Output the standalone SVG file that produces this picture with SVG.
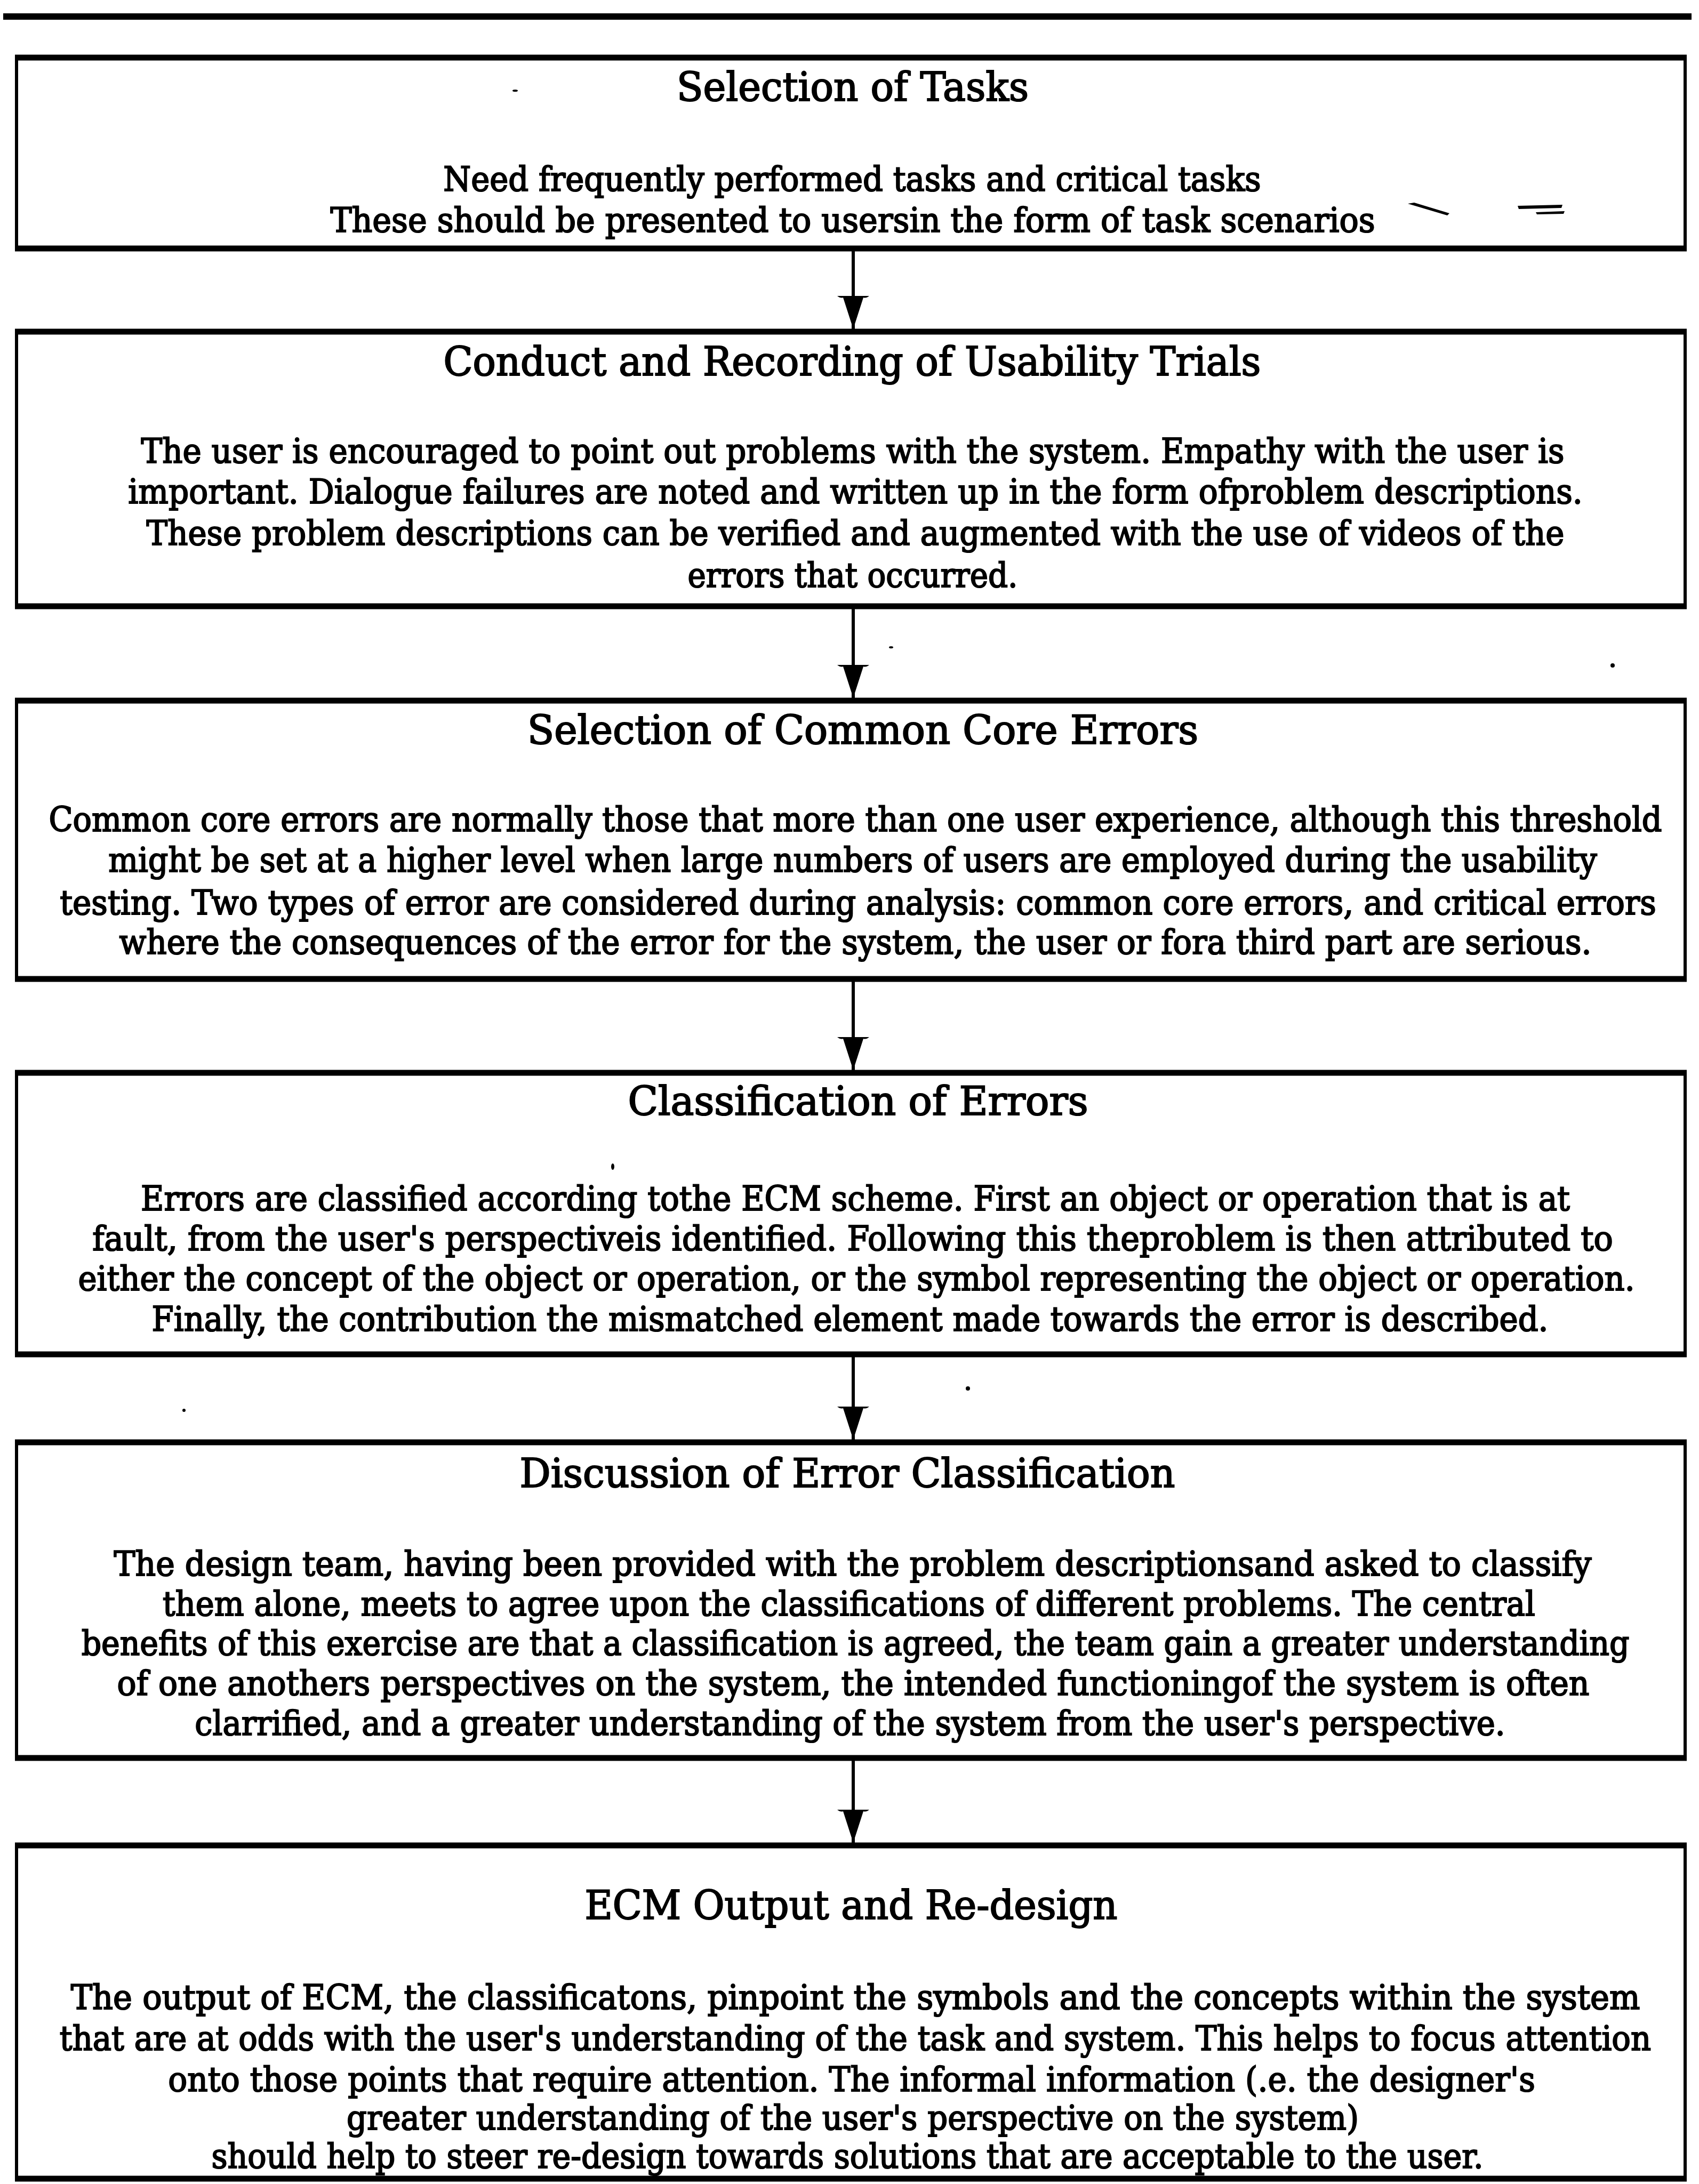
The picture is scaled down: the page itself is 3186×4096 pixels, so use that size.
<svg xmlns="http://www.w3.org/2000/svg" width="3186" height="4096" viewBox="0 0 3186 4096">
  <style>
    .frame { fill: none; stroke: #000; stroke-width: 6; }
    .edge { stroke: #000; stroke-width: 11; stroke-linecap: butt; }
    .rule { stroke: #000; stroke-width: 12; }
    .flow { stroke: #000; stroke-width: 6; fill: none; }
    text { font-family: "DejaVu Serif", "Liberation Serif", serif; fill: #000; stroke: #000; stroke-width: 2.2; text-anchor: middle; }
    .title { font-size: 74px; }
    .body { font-size: 64px; }
    .speck { fill: #000; stroke: none; }
  </style>
  <defs>
    <marker id="head" markerUnits="userSpaceOnUse" viewBox="0 -30 62 60" refX="62" refY="0" markerWidth="62" markerHeight="60" orient="auto">
      <path d="M0,-30 Q5,-24 3,-19 L62,0 L3,19 Q5,24 0,30 Z" fill="#000"/>
    </marker>
  </defs>

  <rect width="3186" height="4096" fill="#fff"/>

  <!-- page rule -->
  <line class="rule" x1="6" y1="31" x2="3172" y2="31"/>

  <!-- body lines are set in a slightly condensed face: scale(.85 1) -->
  <g id="node-selection-of-tasks">
    <rect class="frame" x="31" y="108" width="3129" height="358"/>
    <line class="edge" x1="28" y1="108" x2="3163" y2="108"/>
    <line class="edge" x1="28" y1="466" x2="3163" y2="466"/>
    <text class="title" x="1599" y="189" textLength="660" lengthAdjust="spacingAndGlyphs">Selection of Tasks</text>
    <text class="body" transform="translate(1598 358) scale(.85 1)" textLength="1804" lengthAdjust="spacingAndGlyphs">Need frequently performed tasks and critical tasks</text>
    <text class="body" transform="translate(1599 435) scale(.85 1)" textLength="2305" lengthAdjust="spacingAndGlyphs">These should be presented to usersin the form of task scenarios</text>
  </g>

  <g id="node-conduct-and-recording">
    <rect class="frame" x="31" y="622" width="3129" height="515"/>
    <line class="edge" x1="28" y1="622" x2="3163" y2="622"/>
    <line class="edge" x1="28" y1="1137" x2="3163" y2="1137"/>
    <text class="title" x="1598" y="704" textLength="1533" lengthAdjust="spacingAndGlyphs">Conduct and Recording of Usability Trials</text>
    <text class="body" transform="translate(1599 868) scale(.85 1)" textLength="3140" lengthAdjust="spacingAndGlyphs">The user is encouraged to point out problems with the system. Empathy with the user is</text>
    <text class="body" transform="translate(1604 944) scale(.85 1)" textLength="3209" lengthAdjust="spacingAndGlyphs">important. Dialogue failures are noted and written up in the form ofproblem descriptions.</text>
    <text class="body" transform="translate(1604 1022) scale(.85 1)" textLength="3128" lengthAdjust="spacingAndGlyphs">These problem descriptions can be verified and augmented with the use of videos of the</text>
    <text class="body" transform="translate(1599 1101) scale(.85 1)" textLength="728" lengthAdjust="spacingAndGlyphs">errors that occurred.</text>
  </g>

  <g id="node-common-core-errors">
    <rect class="frame" x="31" y="1314" width="3129" height="522"/>
    <line class="edge" x1="28" y1="1314" x2="3163" y2="1314"/>
    <line class="edge" x1="28" y1="1836" x2="3163" y2="1836"/>
    <text class="title" x="1618" y="1395" textLength="1258" lengthAdjust="spacingAndGlyphs">Selection of Common Core Errors</text>
    <text class="body" transform="translate(1604 1559) scale(.85 1)" textLength="3559" lengthAdjust="spacingAndGlyphs">Common core errors are normally those that more than one user experience, although this threshold</text>
    <text class="body" transform="translate(1599 1635) scale(.85 1)" textLength="3284" lengthAdjust="spacingAndGlyphs">might be set at a higher level when large numbers of users are employed during the usability</text>
    <text class="body" transform="translate(1609 1715) scale(.85 1)" textLength="3522" lengthAdjust="spacingAndGlyphs">testing. Two types of error are considered during analysis: common core errors, and critical errors</text>
    <text class="body" transform="translate(1604 1789) scale(.85 1)" textLength="3248" lengthAdjust="spacingAndGlyphs">where the consequences of the error for the system, the user or fora third part are serious.</text>
  </g>

  <g id="node-classification-of-errors">
    <rect class="frame" x="31" y="2012" width="3129" height="528"/>
    <line class="edge" x1="28" y1="2012" x2="3163" y2="2012"/>
    <line class="edge" x1="28" y1="2540" x2="3163" y2="2540"/>
    <text class="title" x="1609" y="2091" textLength="863" lengthAdjust="spacingAndGlyphs">Classification of Errors</text>
    <text class="body" transform="translate(1604 2270) scale(.85 1)" textLength="3153" lengthAdjust="spacingAndGlyphs">Errors are classified according tothe ECM scheme. First an object or operation that is at</text>
    <text class="body" transform="translate(1599 2345) scale(.85 1)" textLength="3355" lengthAdjust="spacingAndGlyphs">fault, from the user's perspectiveis identified. Following this theproblem is then attributed to</text>
    <text class="body" transform="translate(1606 2420) scale(.85 1)" textLength="3434" lengthAdjust="spacingAndGlyphs">either the concept of the object or operation, or the symbol representing the object or operation.</text>
    <text class="body" transform="translate(1594 2496) scale(.85 1)" textLength="3081" lengthAdjust="spacingAndGlyphs">Finally, the contribution the mismatched element made towards the error is described.</text>
  </g>

  <g id="node-discussion">
    <rect class="frame" x="31" y="2705" width="3129" height="592"/>
    <line class="edge" x1="28" y1="2705" x2="3163" y2="2705"/>
    <line class="edge" x1="28" y1="3297" x2="3163" y2="3297"/>
    <text class="title" x="1589" y="2789" textLength="1229" lengthAdjust="spacingAndGlyphs">Discussion of Error Classification</text>
    <text class="body" transform="translate(1599 2955) scale(.85 1)" textLength="3260" lengthAdjust="spacingAndGlyphs">The design team, having been provided with the problem descriptionsand asked to classify</text>
    <text class="body" transform="translate(1592 3030) scale(.85 1)" textLength="3028" lengthAdjust="spacingAndGlyphs">them alone, meets to agree upon the classifications of different problems. The central</text>
    <text class="body" transform="translate(1604 3104) scale(.85 1)" textLength="3415" lengthAdjust="spacingAndGlyphs">benefits of this exercise are that a classification is agreed, the team gain a greater understanding</text>
    <text class="body" transform="translate(1600 3179) scale(.85 1)" textLength="3248" lengthAdjust="spacingAndGlyphs">of one anothers perspectives on the system, the intended functioningof the system is often</text>
    <text class="body" transform="translate(1594 3254) scale(.85 1)" textLength="2891" lengthAdjust="spacingAndGlyphs">clarrified, and a greater understanding of the system from the user's perspective.</text>
  </g>

  <g id="node-ecm-output">
    <rect class="frame" x="31" y="3461" width="3129" height="625"/>
    <line class="edge" x1="28" y1="3461" x2="3163" y2="3461"/>
    <line class="edge" x1="28" y1="4086" x2="3163" y2="4086"/>
    <text class="title" x="1596" y="3599" textLength="999" lengthAdjust="spacingAndGlyphs">ECM Output and Re-design</text>
    <text class="body" transform="translate(1604 3768) scale(.85 1)" textLength="3462" lengthAdjust="spacingAndGlyphs">The output of ECM, the classificatons, pinpoint the symbols and the concepts within the system</text>
    <text class="body" transform="translate(1604 3845) scale(.85 1)" textLength="3511" lengthAdjust="spacingAndGlyphs">that are at odds with the user's understanding of the task and system. This helps to focus attention</text>
    <text class="body" transform="translate(1597 3922) scale(.85 1)" textLength="3016" lengthAdjust="spacingAndGlyphs">onto those points that require attention. The informal information (.e. the designer's</text>
    <text class="body" transform="translate(1599 3994) scale(.85 1)" textLength="2233" lengthAdjust="spacingAndGlyphs">greater understanding of the user's perspective on the system)</text>
    <text class="body" transform="translate(1589 4066) scale(.85 1)" textLength="2806" lengthAdjust="spacingAndGlyphs">should help to steer re-design towards solutions that are acceptable to the user.</text>
  </g>

  <!-- downward flow between the stages -->
  <g id="connectors">
    <line class="flow" x1="1600" y1="466" x2="1600" y2="617" marker-end="url(#head)"/>
    <line class="flow" x1="1600" y1="1137" x2="1600" y2="1309" marker-end="url(#head)"/>
    <line class="flow" x1="1600" y1="1836" x2="1600" y2="2007" marker-end="url(#head)"/>
    <line class="flow" x1="1600" y1="2540" x2="1600" y2="2700" marker-end="url(#head)"/>
    <line class="flow" x1="1600" y1="3297" x2="1600" y2="3456" marker-end="url(#head)"/>
  </g>

  <!-- stray print marks -->
  <g id="marks">
    <path class="speck" d="M2640,382 L2652,380 L2718,400 L2714,404 Z"/>
    <path class="speck" d="M2846,386 L2930,384 L2928,390 L2848,392 Z M2880,398 L2934,396 L2932,401 L2882,402 Z"/>
    <ellipse class="speck" cx="966" cy="170" rx="5" ry="2"/>
    <ellipse class="speck" cx="3024" cy="1248" rx="4" ry="4"/>
    <ellipse class="speck" cx="1671" cy="1214" rx="4" ry="2"/>
    <ellipse class="speck" cx="1149" cy="2188" rx="3" ry="6"/>
    <ellipse class="speck" cx="1815" cy="2604" rx="4" ry="4"/>
    <ellipse class="speck" cx="345" cy="2645" rx="3" ry="3"/>
  </g>
</svg>
